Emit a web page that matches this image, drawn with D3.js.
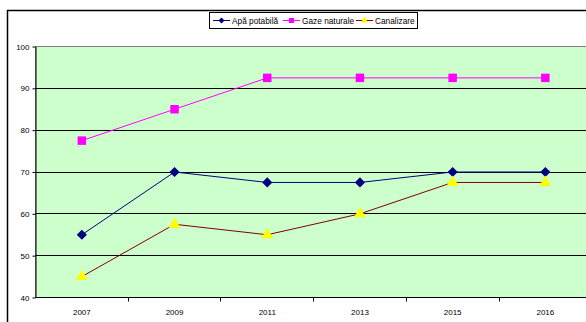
<!DOCTYPE html>
<html>
  <head>
    <meta charset="UTF-8">
    <title></title>
    <style>
    body { margin: 0; background: #fff; }
    svg { display: block; font-family: "Liberation Sans", Arial, sans-serif; }
    </style>
  </head>
  <body>
    <svg id="chart" width="586" height="322"></svg>
  </body>
  <script src="https://cdn.jsdelivr.net/npm/d3@7"></script>
  <script>
  var years = ["2007", "2009", "2011", "2013", "2015", "2016"];
  var apa = [55, 70, 67.5, 67.5, 70, 70];
  var gaze = [77.5, 85, 92.5, 92.5, 92.5, 92.5];
  var canal = [45, 57.5, 55, 60, 67.5, 67.5];
  var yTicks = [40, 50, 60, 70, 80, 90, 100];

  var series = [
    { name: "Apă potabilă", values: apa, line: "#000080", fill: "#000080", shape: d3.symbolDiamond2, size: 66 },
    { name: "Gaze naturale", values: gaze, line: "#ff00ff", fill: "#ff00ff", shape: d3.symbolSquare, size: 72 },
    { name: "Canalizare", values: canal, line: "#800000", fill: "#ffff00", shape: d3.symbolTriangle, size: 62 }
  ];

  var plotLeft = 35.5, plotTop = 46.5, plotBottom = 297.5, plotRight = 35.5 + 6 * 92.7;

  var svg = d3.select("#chart");

  // outer chart frame
  svg.append("rect")
    .attr("x", 7.5).attr("y", 10.5)
    .attr("width", 640).attr("height", 400)
    .attr("fill", "none").attr("stroke", "#000").attr("stroke-width", 1.5);

  var x = d3.scaleBand().domain(years).range([plotLeft, plotRight]);
  var y = d3.scaleLinear().domain([40, 100]).range([plotBottom, plotTop]);

  svg.append("rect")
    .attr("x", plotLeft).attr("y", plotTop)
    .attr("width", plotRight - plotLeft).attr("height", plotBottom - plotTop)
    .attr("fill", "#ccffcc").attr("stroke", "#808080");

  // gridlines
  svg.append("g").selectAll("line")
    .data(yTicks.filter(function(t) { return t > 40 && t < 100; }))
    .enter().append("line")
    .attr("x1", plotLeft).attr("x2", plotRight)
    .attr("y1", function(d) { return Math.round(y(d) - 0.5) + 0.5; })
    .attr("y2", function(d) { return Math.round(y(d) - 0.5) + 0.5; })
    .attr("stroke", "#000");

  var yAxis = svg.append("g")
    .attr("transform", "translate(" + plotLeft + ",0)")
    .call(d3.axisLeft(y).tickValues(yTicks).tickSize(3).tickPadding(3).tickSizeOuter(0));
  yAxis.select(".domain").attr("stroke", "#000");
  yAxis.selectAll("text").attr("font-size", 8).attr("fill", "#000")
    .attr("font-family", "Liberation Sans, Arial, sans-serif");

  var xAxis = svg.append("g")
    .attr("transform", "translate(0," + plotBottom + ")");
  xAxis.append("line")
    .attr("x1", plotLeft).attr("x2", plotRight).attr("stroke", "#000");
  xAxis.selectAll(".tk")
    .data(years.slice(1))
    .enter().append("line")
    .attr("class", "tk")
    .attr("x1", function(d) { return Math.round(x(d) - 0.5) + 0.5; })
    .attr("x2", function(d) { return Math.round(x(d) - 0.5) + 0.5; })
    .attr("y1", 0).attr("y2", 4).attr("stroke", "#000");
  xAxis.selectAll("text")
    .data(years)
    .enter().append("text")
    .attr("x", function(d) { return x(d) + x.bandwidth() / 2; })
    .attr("y", 17)
    .attr("text-anchor", "middle")
    .attr("font-size", 8)
    .text(function(d) { return d; });

  var line = d3.line()
    .x(function(d, i) { return x(years[i]) + x.bandwidth() / 2; })
    .y(function(d) { return y(d); });

  series.forEach(function(s) {
    svg.append("path")
      .datum(s.values)
      .attr("d", line)
      .attr("fill", "none")
      .attr("stroke", s.line)
      .attr("stroke-width", 1);
  });

  series.forEach(function(s) {
    svg.append("g").selectAll("path")
      .data(s.values)
      .enter().append("path")
      .attr("transform", function(d, i) {
        return "translate(" + (x(years[i]) + x.bandwidth() / 2) + "," + y(d) + ")";
      })
      .attr("d", d3.symbol().type(s.shape).size(s.size))
      .attr("fill", s.fill);
  });

  // legend
  var legend = svg.append("g");
  legend.append("rect")
    .attr("x", 209.5).attr("y", 12.5)
    .attr("width", 208).attr("height", 16)
    .attr("fill", "#fff").attr("stroke", "#000");

  var legX = [213, 283, 356];
  series.forEach(function(s, i) {
    var g = legend.append("g").attr("transform", "translate(" + legX[i] + ",20.5)");
    g.append("line").attr("x1", 0).attr("x2", 17).attr("stroke", s.line);
    g.append("path")
      .attr("transform", "translate(8.5,0)")
      .attr("d", d3.symbol().type(s.shape).size(s.size * 0.35))
      .attr("fill", s.fill);
    g.append("text")
      .attr("x", 19).attr("y", 3)
      .attr("font-size", 8.3)
      .text(s.name);
  });
  </script>
</html>
